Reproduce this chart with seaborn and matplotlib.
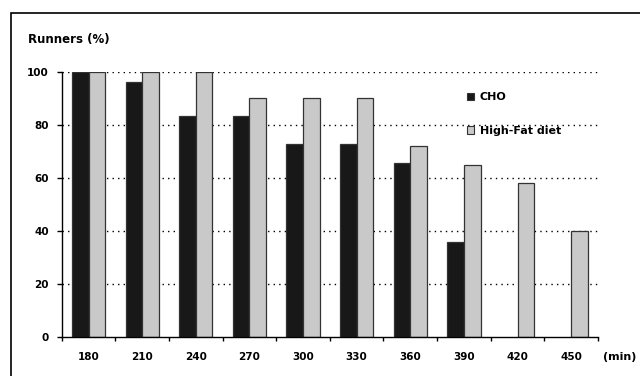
import pandas as pd
import matplotlib.pyplot as plt
import seaborn as sns
from matplotlib.patches import Rectangle, Patch

# values
minutes = ['180', '210', '240', '270', '300', '330', '360', '390', '420', '450']
cho = [100, 96.3, 83.3, 83.3, 72.7, 72.7, 65.5, 35.7, 0, 0]
high_fat = [100, 100, 100, 90, 90, 90, 72, 65, 58, 40]
series = ['CHO', 'High-Fat diet']
colors = ['#181818', '#c9c9c9']

df = pd.DataFrame({
    'Minutes': minutes * 2,
    'Runners': cho + high_fat,
    'Diet': [series[0]] * len(minutes) + [series[1]] * len(minutes),
})

sns.set_theme(style='white', rc={'text.color': 'black', 'xtick.color': 'black',
                                 'ytick.color': 'black', 'axes.labelcolor': 'black'})
plt.rcParams['font.family'] = ['DejaVu Sans']
plt.rcParams['font.weight'] = 'bold'

fig = plt.figure(figsize=(6.4, 3.76), dpi=100)
ax = fig.add_axes([61.7 / 640, 1 - 336.7 / 376, (598 - 61.7) / 640, (336.7 - 72) / 376])

sns.barplot(data=df, x='Minutes', y='Runners', hue='Diet', order=minutes,
            hue_order=series, palette=colors, width=0.62,
            edgecolor='#333333', linewidth=0.9, saturation=1, ax=ax, legend=False)
for p in ax.patches:
    if p.get_height() == 0:
        p.set_visible(False)

ax.set_ylim(0, 100)
ax.set_xlim(-0.5, len(minutes) - 0.5)
ax.set_xlabel('')
ax.set_ylabel('')
ax.set_yticks([0, 20, 40, 60, 80, 100])
ax.tick_params(axis='y', which='major', left=True, length=3.6, width=1, color='black',
               pad=5.5, labelsize=7.5, labelcolor='black')
ax.tick_params(axis='x', which='major', bottom=False, length=0, pad=11, labelsize=7.5,
               labelcolor='black')
ax.set_xticks([i - 0.5 for i in range(len(minutes) + 1)], minor=True)
ax.tick_params(axis='x', which='minor', bottom=True, length=3, width=1, color='black')
for lab in ax.get_xticklabels() + ax.get_yticklabels():
    lab.set_fontweight('bold')

for v in [20, 40, 60, 80, 100]:
    ax.axhline(v, color='black', lw=1, linestyle=(0, (1, 3)), zorder=0)

for side in ['top', 'right']:
    ax.spines[side].set_visible(False)
for side in ['left', 'bottom']:
    ax.spines[side].set_color('black')
    ax.spines[side].set_linewidth(1)

handles = [Patch(facecolor=c, edgecolor='#333333', lw=0.8) for c in colors]
ax.legend(handles, series, loc='upper left', bbox_to_anchor=(466.5 / 640, 1 - 92.5 / 376),
          bbox_transform=fig.transFigure, frameon=False, borderpad=0, borderaxespad=0,
          handlelength=0.63, handleheight=0.63, handletextpad=0.55, labelspacing=2.1,
          prop={'size': 8, 'weight': 'bold'}, labelcolor='black')

fig.text(28 / 640, 1 - 42.5 / 376, 'Runners (%)', fontsize=8.5, fontweight='bold',
         va='baseline', color='black')
fig.text(603 / 640, 1 - 357 / 376, '(min)', fontsize=8, fontweight='bold', va='center',
         color='black')

fig.patches.append(Rectangle((11 / 640, -0.1), 1, 1 - 12.5 / 376 + 0.1,
                             transform=fig.transFigure, fill=False,
                             edgecolor='black', lw=1.2))

fig.savefig('out.png', dpi=100)
